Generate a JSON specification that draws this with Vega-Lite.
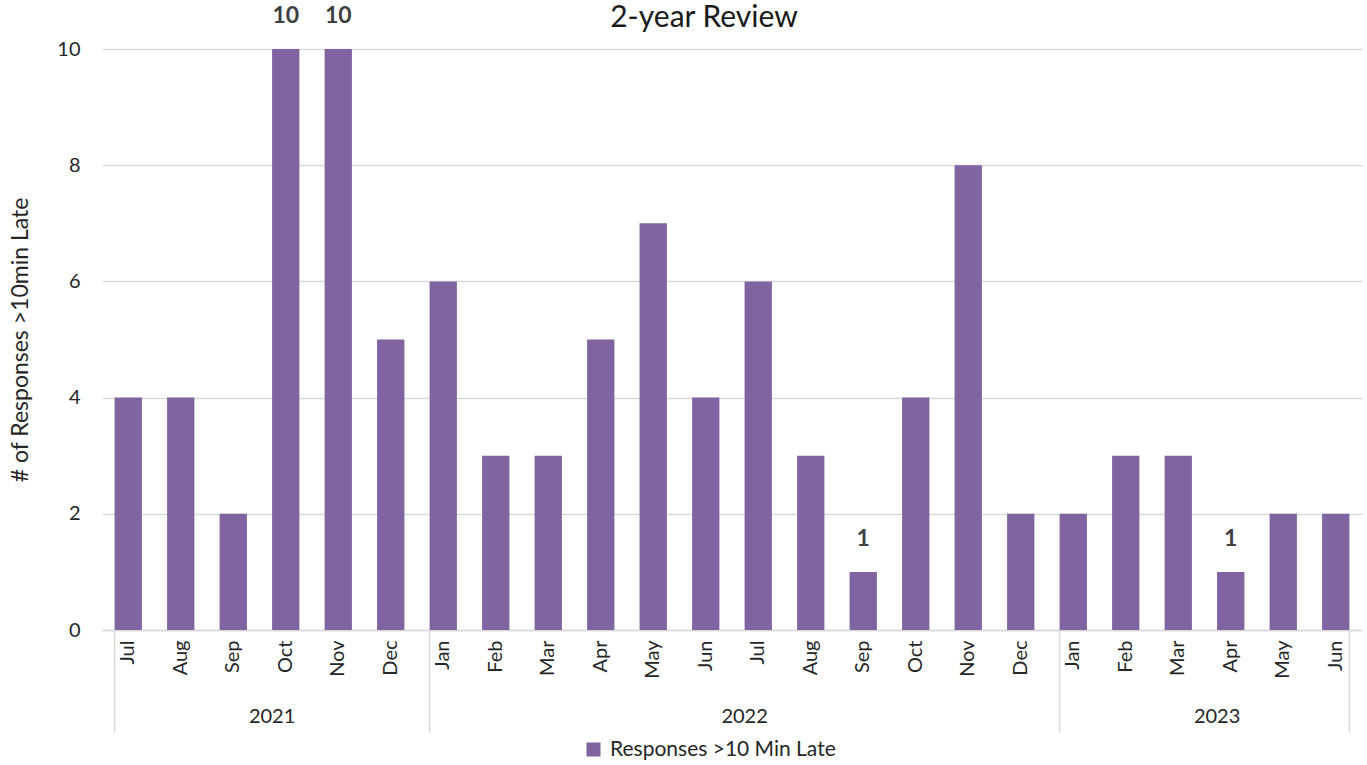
{
  "$schema": "https://vega.github.io/schema/vega-lite/v6.json",
  "autosize": {"type": "none"},
  "width": 1260,
  "height": 581,
  "padding": {"left": 102, "top": 49, "right": 5, "bottom": 135},
  "background": "white",
  "config": {
    "font": "Lato",
    "view": {"stroke": null},
    "axis": {"labelFont": "Lato", "titleFont": "Lato", "labelColor": "#262626", "titleColor": "#262626"}
  },
  "title": {
    "text": "2-year Review",
    "fontSize": 30,
    "fontWeight": "normal",
    "font": "Lato",
    "color": "#1a1a1a",
    "anchor": "middle",
    "dx": -28,
    "dy": 38,
    "offset": 10
  },
  "datasets": {
    "months": [
      {"key": "2021-07|Jul", "value": 4, "label": ""},
      {"key": "2021-08|Aug", "value": 4, "label": ""},
      {"key": "2021-09|Sep", "value": 2, "label": ""},
      {"key": "2021-10|Oct", "value": 10, "label": "10"},
      {"key": "2021-11|Nov", "value": 10, "label": "10"},
      {"key": "2021-12|Dec", "value": 5, "label": ""},
      {"key": "2022-01|Jan", "value": 6, "label": ""},
      {"key": "2022-02|Feb", "value": 3, "label": ""},
      {"key": "2022-03|Mar", "value": 3, "label": ""},
      {"key": "2022-04|Apr", "value": 5, "label": ""},
      {"key": "2022-05|May", "value": 7, "label": ""},
      {"key": "2022-06|Jun", "value": 4, "label": ""},
      {"key": "2022-07|Jul", "value": 6, "label": ""},
      {"key": "2022-08|Aug", "value": 3, "label": ""},
      {"key": "2022-09|Sep", "value": 1, "label": "1"},
      {"key": "2022-10|Oct", "value": 4, "label": ""},
      {"key": "2022-11|Nov", "value": 8, "label": ""},
      {"key": "2022-12|Dec", "value": 2, "label": ""},
      {"key": "2023-01|Jan", "value": 2, "label": ""},
      {"key": "2023-02|Feb", "value": 3, "label": ""},
      {"key": "2023-03|Mar", "value": 3, "label": ""},
      {"key": "2023-04|Apr", "value": 1, "label": "1"},
      {"key": "2023-05|May", "value": 2, "label": ""},
      {"key": "2023-06|Jun", "value": 2, "label": ""}
    ],
    "bounds": [
      {"key": "2021-07|Jul"},
      {"key": "2022-01|Jan"},
      {"key": "2023-01|Jan"}
    ],
    "endbound": [
      {"key": "2023-06|Jun"}
    ],
    "years": [
      {"key": "2021-10|Oct", "year": "2021"},
      {"key": "2022-07|Jul", "year": "2022"},
      {"key": "2023-04|Apr", "year": "2023"}
    ]
  },
  "layer": [
    {
      "data": {"name": "months"},
      "mark": {"type": "bar"},
      "encoding": {
        "x": {
          "field": "key",
          "type": "nominal",
          "sort": "ascending",
          "scale": {"paddingInner": 0.48, "paddingOuter": 0.24},
          "axis": {
            "title": null,
            "labelExpr": "split(datum.value, '|')[1]",
            "labelAngle": 270,
            "labelFontSize": 20,
            "labelPadding": 10,
            "ticks": false,
            "domainColor": "#d9d9d9",
            "domainWidth": 1.5,
            "grid": false
          }
        },
        "y": {
          "field": "value",
          "type": "quantitative",
          "scale": {"domain": [0, 10], "nice": false, "zero": true},
          "axis": {
            "title": "# of Responses >10min Late",
            "titleFontSize": 23,
            "titleFontWeight": "normal",
            "titlePadding": 24,
            "values": [0, 2, 4, 6, 8, 10],
            "format": "d",
            "labelFontSize": 20,
            "labelPadding": 22,
            "ticks": false,
            "domain": false,
            "gridColor": "#d9d9d9",
            "gridWidth": 1.5
          }
        },
        "color": {
          "datum": "Responses >10 Min Late",
          "type": "nominal",
          "scale": {"range": ["#8064A2"]},
          "legend": {
            "title": null,
            "orient": "none",
            "legendX": 481,
            "legendY": 690,
            "padding": 0,
            "symbolType": "square",
            "symbolSize": 196,
            "symbolStrokeWidth": 0,
            "labelFontSize": 21,
            "labelColor": "#262626",
            "labelFont": "Lato",
            "labelOffset": 6,
            "labelLimit": 400
          }
        }
      }
    },
    {
      "data": {"name": "months"},
      "mark": {"type": "text", "fontSize": 23, "fontWeight": "bold", "color": "#404040", "baseline": "middle", "dy": -33},
      "encoding": {
        "x": {"field": "key", "type": "nominal", "sort": "ascending"},
        "y": {"field": "value", "type": "quantitative"},
        "text": {"field": "label"}
      }
    },
    {
      "data": {"name": "bounds"},
      "mark": {"type": "rule", "color": "#d9d9d9", "strokeWidth": 1.5},
      "encoding": {
        "x": {"field": "key", "type": "nominal", "sort": "ascending", "bandPosition": 0},
        "y": {"datum": 0},
        "y2": {"datum": -1.77}
      }
    },
    {
      "data": {"name": "endbound"},
      "mark": {"type": "rule", "color": "#d9d9d9", "strokeWidth": 1.5},
      "encoding": {
        "x": {"field": "key", "type": "nominal", "sort": "ascending", "bandPosition": 1},
        "y": {"datum": 0},
        "y2": {"datum": -1.77}
      }
    },
    {
      "data": {"name": "years"},
      "mark": {"type": "text", "fontSize": 20, "color": "#262626", "baseline": "middle"},
      "encoding": {
        "x": {"field": "key", "type": "nominal", "sort": "ascending", "bandPosition": 0},
        "y": {"datum": -1.5},
        "text": {"field": "year"}
      }
    }
  ]
}
